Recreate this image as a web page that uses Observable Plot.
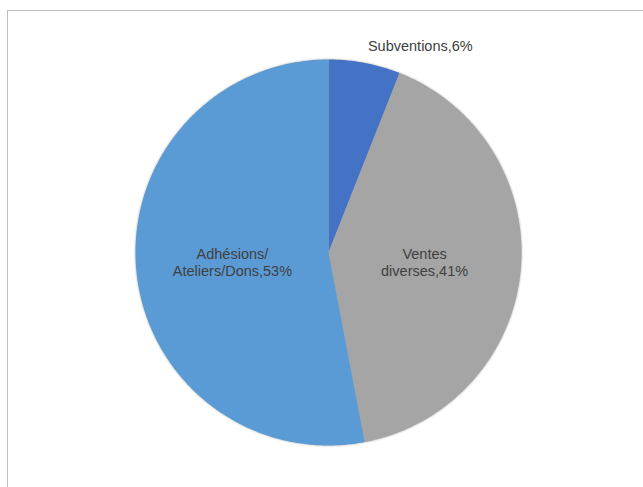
<!DOCTYPE html>
<html>
<head>
<meta charset="utf-8">
<script src="https://cdn.jsdelivr.net/npm/d3@7"></script>
<script src="https://cdn.jsdelivr.net/npm/@observablehq/plot@0.6"></script>
<style>
  html, body { margin: 0; padding: 0; background: #fff; overflow: hidden; }
  #wrap { position: relative; width: 643px; height: 487px; }
  #frame { position: absolute; left: 7px; top: 10px; width: 700px; height: 600px; border-left: 1.5px solid #bdbdbd; border-top: 1.5px solid #bdbdbd; }
  #chart { position: absolute; left: 0; top: 0; }
  g.slices { filter: drop-shadow(0 0 1px rgba(0,0,0,0.35)); }
</style>
</head>
<body>
<div id="wrap"><div id="frame"></div><div id="chart"></div></div>
<script>
const categories = ["Subventions", "Ventes diverses", "Adhésions/Ateliers/Dons"];
const labelLines = ["Subventions,6%", "Ventes\ndiverses,41%", "Adhésions/\nAteliers/Dons,53%"];
const values = [6, 41, 53];
const colors = ["#4472C4", "#A5A5A5", "#5B9BD5"];

const total = d3.sum(values);
const slices = [];
let acc = 0;
values.forEach((v, i) => {
  const a0 = acc / total * 2 * Math.PI;
  acc += v;
  const a1 = acc / total * 2 * Math.PI;
  slices.push({ i, a0, a1, mid: (a0 + a1) / 2 });
});

const pts = [];
for (const s of slices) {
  pts.push({ cat: categories[s.i], x: 0, y: 0 });
  const n = Math.max(4, Math.ceil((s.a1 - s.a0) / 0.01));
  for (let k = 0; k <= n; k++) {
    const a = s.a0 + (s.a1 - s.a0) * k / n;
    pts.push({ cat: categories[s.i], x: Math.sin(a), y: Math.cos(a) });
  }
  pts.push({ cat: categories[s.i], x: 0, y: 0 });
}

const labels = slices.map(s => {
  const outside = values[s.i] < 10;
  const r = outside ? 1.09 : 0.5;
  return {
    text: labelLines[s.i],
    x: Math.sin(s.mid) * r,
    y: Math.cos(s.mid) * r,
    anchor: outside ? "start" : "middle"
  };
});

const R = 193;
const W = 643, H = 487, cx = 328, cy = 252;

const chart = Plot.plot({
  width: W,
  height: H,
  margin: 0,
  x: { domain: [-cx / R, (W - cx) / R], axis: null },
  y: { domain: [-(H - cy) / R, cy / R], axis: null },
  color: { domain: categories, range: colors },
  style: { fontFamily: "Arial, 'Liberation Sans', sans-serif", background: "transparent" },
  marks: [
    Plot.line(pts, { x: "x", y: "y", z: "cat", fill: "cat", stroke: null, curve: "linear", className: "slices" }),
    Plot.text(labels.filter(d => d.anchor === "middle"), { x: "x", y: "y", text: "text", fontSize: 14.5, lineHeight: 1.18, fill: "#404040", textAnchor: "middle" }),
    Plot.text(labels.filter(d => d.anchor === "start"), { x: "x", y: "y", text: "text", fontSize: 14.5, lineHeight: 1.18, fill: "#404040", textAnchor: "start" })
  ]
});
document.getElementById("chart").appendChild(chart);
</script>
</body>
</html>
